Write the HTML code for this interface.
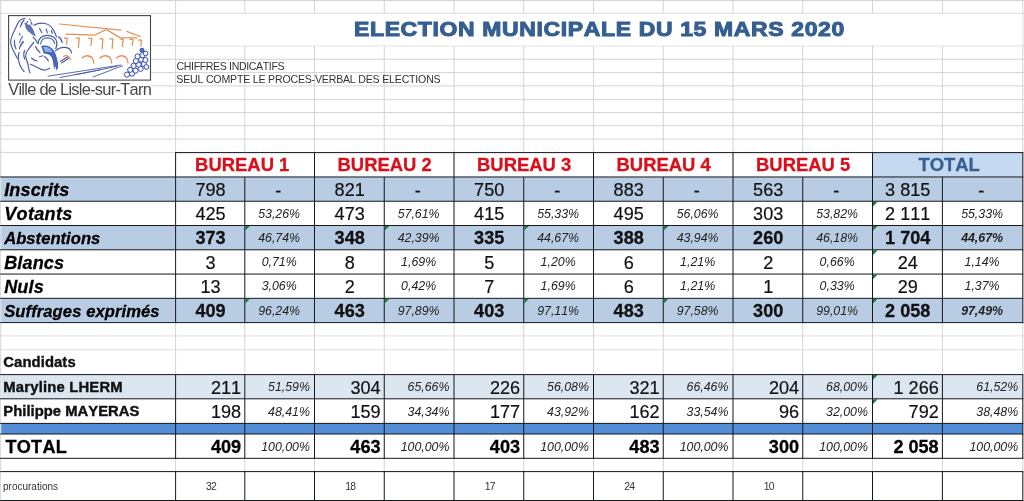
<!DOCTYPE html>
<html><head><meta charset="utf-8"><title>Election municipale</title>
<style>
html,body{margin:0;padding:0;background:#fff;}
body{width:1024px;height:501px;position:relative;overflow:hidden;font-family:"Liberation Sans",sans-serif;}
#s{position:absolute;left:0;top:0;width:1024px;height:501px;overflow:hidden;background:#fff;}
#s div,#s span,#s svg{position:absolute;}
#s span{line-height:1;white-space:pre;font-kerning:none;}
#t{left:0;top:0;width:1024px;height:501px;will-change:transform;}
</style></head><body><div id="s">
<svg width="1024" height="501" viewBox="0 0 1024 501" style="left:0;top:0">
<rect x="0.00" y="0.00" width="1024.00" height="1" fill="#d4d4d4"/>
<rect x="0.00" y="12.80" width="1024.00" height="1" fill="#d4d4d4"/>
<rect x="0.00" y="45.30" width="1024.00" height="1" fill="#d4d4d4"/>
<rect x="0.00" y="58.80" width="1024.00" height="1" fill="#d4d4d4"/>
<rect x="0.00" y="72.10" width="1024.00" height="1" fill="#d4d4d4"/>
<rect x="0.00" y="85.40" width="1024.00" height="1" fill="#d4d4d4"/>
<rect x="0.00" y="99.10" width="1024.00" height="1" fill="#d4d4d4"/>
<rect x="0.00" y="112.00" width="1024.00" height="1" fill="#d4d4d4"/>
<rect x="0.00" y="125.30" width="1024.00" height="1" fill="#d4d4d4"/>
<rect x="0.00" y="138.60" width="1024.00" height="1" fill="#d4d4d4"/>
<rect x="0.00" y="151.90" width="1024.00" height="1" fill="#d4d4d4"/>
<rect x="0.00" y="335.40" width="1024.00" height="1" fill="#e2dfdf"/>
<rect x="0.00" y="349.30" width="1024.00" height="1" fill="#e2dfdf"/>
<rect x="0.20" y="0.00" width="1" height="501.00" fill="#d4d4d4"/>
<rect x="175.10" y="0.00" width="1" height="501.00" fill="#d4d4d4"/>
<rect x="244.30" y="0.00" width="1" height="501.00" fill="#d4d4d4"/>
<rect x="314.00" y="0.00" width="1" height="501.00" fill="#d4d4d4"/>
<rect x="383.75" y="0.00" width="1" height="501.00" fill="#d4d4d4"/>
<rect x="453.50" y="0.00" width="1" height="501.00" fill="#d4d4d4"/>
<rect x="523.25" y="0.00" width="1" height="501.00" fill="#d4d4d4"/>
<rect x="593.00" y="0.00" width="1" height="501.00" fill="#d4d4d4"/>
<rect x="662.75" y="0.00" width="1" height="501.00" fill="#d4d4d4"/>
<rect x="732.50" y="0.00" width="1" height="501.00" fill="#d4d4d4"/>
<rect x="802.25" y="0.00" width="1" height="501.00" fill="#d4d4d4"/>
<rect x="872.00" y="0.00" width="1" height="501.00" fill="#d4d4d4"/>
<rect x="941.90" y="0.00" width="1" height="501.00" fill="#d4d4d4"/>
<rect x="1022.30" y="0.00" width="1" height="501.00" fill="#d4d4d4"/>
<rect x="176.10" y="13.80" width="846.20" height="31.70" fill="#fff"/>
<rect x="175.60" y="152.60" width="847.20" height="169.99" fill="#fff"/>
<rect x="1.20" y="176.97" width="174.40" height="145.62" fill="#fff"/>
<rect x="1.20" y="374.60" width="1021.60" height="83.70" fill="#fff"/>
<rect x="1.20" y="471.60" width="1021.60" height="28.90" fill="#fff"/>
<rect x="872.50" y="152.60" width="150.30" height="24.37" fill="#c5d9f1"/>
<rect x="1.20" y="176.97" width="1021.60" height="24.27" fill="#b8cce4"/>
<rect x="1.20" y="225.51" width="1021.60" height="24.27" fill="#b8cce4"/>
<rect x="1.20" y="298.32" width="1021.60" height="24.27" fill="#b8cce4"/>
<rect x="1.20" y="374.60" width="1021.60" height="24.20" fill="#dce6f1"/>
<rect x="1.20" y="423.40" width="1021.60" height="10.60" fill="#538dd5"/>
<rect x="175.10" y="152.10" width="848.20" height="1" fill="#14171c"/>
<rect x="0.20" y="176.47" width="1023.10" height="1" fill="#14171c"/>
<rect x="0.20" y="200.74" width="1023.10" height="1" fill="#14171c"/>
<rect x="0.20" y="225.01" width="1023.10" height="1" fill="#14171c"/>
<rect x="0.20" y="249.28" width="1023.10" height="1" fill="#14171c"/>
<rect x="0.20" y="273.55" width="1023.10" height="1" fill="#14171c"/>
<rect x="0.20" y="297.82" width="1023.10" height="1" fill="#14171c"/>
<rect x="0.20" y="322.09" width="1023.10" height="1" fill="#14171c"/>
<rect x="0.20" y="374.10" width="1023.10" height="1" fill="#14171c"/>
<rect x="0.20" y="398.30" width="1023.10" height="1" fill="#14171c"/>
<rect x="0.20" y="422.90" width="1023.10" height="1" fill="#14171c"/>
<rect x="0.20" y="433.50" width="1023.10" height="1" fill="#14171c"/>
<rect x="0.20" y="457.80" width="1023.10" height="1" fill="#14171c"/>
<rect x="0.20" y="471.10" width="1023.10" height="1" fill="#14171c"/>
<rect x="0.20" y="500.00" width="1023.10" height="1" fill="#14171c"/>
<rect x="175.10" y="152.60" width="1" height="24.37" fill="#14171c"/>
<rect x="314.00" y="152.60" width="1" height="24.37" fill="#14171c"/>
<rect x="453.50" y="152.60" width="1" height="24.37" fill="#14171c"/>
<rect x="593.00" y="152.60" width="1" height="24.37" fill="#14171c"/>
<rect x="732.50" y="152.60" width="1" height="24.37" fill="#14171c"/>
<rect x="872.00" y="152.60" width="1" height="24.37" fill="#14171c"/>
<rect x="1022.30" y="152.60" width="1" height="24.37" fill="#14171c"/>
<rect x="175.10" y="176.97" width="1" height="146.12" fill="#14171c"/>
<rect x="175.10" y="374.60" width="1" height="84.20" fill="#14171c"/>
<rect x="175.10" y="471.60" width="1" height="29.40" fill="#14171c"/>
<rect x="244.30" y="176.97" width="1" height="146.12" fill="#14171c"/>
<rect x="244.30" y="374.60" width="1" height="84.20" fill="#14171c"/>
<rect x="244.30" y="471.60" width="1" height="29.40" fill="#14171c"/>
<rect x="314.00" y="176.97" width="1" height="146.12" fill="#14171c"/>
<rect x="314.00" y="374.60" width="1" height="84.20" fill="#14171c"/>
<rect x="314.00" y="471.60" width="1" height="29.40" fill="#14171c"/>
<rect x="383.75" y="176.97" width="1" height="146.12" fill="#14171c"/>
<rect x="383.75" y="374.60" width="1" height="84.20" fill="#14171c"/>
<rect x="383.75" y="471.60" width="1" height="29.40" fill="#14171c"/>
<rect x="453.50" y="176.97" width="1" height="146.12" fill="#14171c"/>
<rect x="453.50" y="374.60" width="1" height="84.20" fill="#14171c"/>
<rect x="453.50" y="471.60" width="1" height="29.40" fill="#14171c"/>
<rect x="523.25" y="176.97" width="1" height="146.12" fill="#14171c"/>
<rect x="523.25" y="374.60" width="1" height="84.20" fill="#14171c"/>
<rect x="523.25" y="471.60" width="1" height="29.40" fill="#14171c"/>
<rect x="593.00" y="176.97" width="1" height="146.12" fill="#14171c"/>
<rect x="593.00" y="374.60" width="1" height="84.20" fill="#14171c"/>
<rect x="593.00" y="471.60" width="1" height="29.40" fill="#14171c"/>
<rect x="662.75" y="176.97" width="1" height="146.12" fill="#14171c"/>
<rect x="662.75" y="374.60" width="1" height="84.20" fill="#14171c"/>
<rect x="662.75" y="471.60" width="1" height="29.40" fill="#14171c"/>
<rect x="732.50" y="176.97" width="1" height="146.12" fill="#14171c"/>
<rect x="732.50" y="374.60" width="1" height="84.20" fill="#14171c"/>
<rect x="732.50" y="471.60" width="1" height="29.40" fill="#14171c"/>
<rect x="802.25" y="176.97" width="1" height="146.12" fill="#14171c"/>
<rect x="802.25" y="374.60" width="1" height="84.20" fill="#14171c"/>
<rect x="802.25" y="471.60" width="1" height="29.40" fill="#14171c"/>
<rect x="872.00" y="176.97" width="1" height="146.12" fill="#14171c"/>
<rect x="872.00" y="374.60" width="1" height="84.20" fill="#14171c"/>
<rect x="872.00" y="471.60" width="1" height="29.40" fill="#14171c"/>
<rect x="941.90" y="176.97" width="1" height="146.12" fill="#14171c"/>
<rect x="941.90" y="374.60" width="1" height="84.20" fill="#14171c"/>
<rect x="941.90" y="471.60" width="1" height="29.40" fill="#14171c"/>
<rect x="1022.30" y="176.97" width="1" height="146.12" fill="#14171c"/>
<rect x="1022.30" y="374.60" width="1" height="84.20" fill="#14171c"/>
<rect x="1022.30" y="471.60" width="1" height="29.40" fill="#14171c"/>
<path d="M245.30 226.01h4.6l-4.6 4.6z" fill="#1c7a3c"/>
<path d="M384.75 226.01h4.6l-4.6 4.6z" fill="#1c7a3c"/>
<path d="M524.25 226.01h4.6l-4.6 4.6z" fill="#1c7a3c"/>
<path d="M663.75 226.01h4.6l-4.6 4.6z" fill="#1c7a3c"/>
<path d="M245.30 298.82h4.6l-4.6 4.6z" fill="#1c7a3c"/>
<path d="M384.75 298.82h4.6l-4.6 4.6z" fill="#1c7a3c"/>
<path d="M524.25 298.82h4.6l-4.6 4.6z" fill="#1c7a3c"/>
<path d="M663.75 298.82h4.6l-4.6 4.6z" fill="#1c7a3c"/>
<path d="M873.00 201.74h4.6l-4.6 4.6z" fill="#1c7a3c"/>
<path d="M873.00 226.01h4.6l-4.6 4.6z" fill="#1c7a3c"/>
<path d="M873.00 250.28h4.6l-4.6 4.6z" fill="#1c7a3c"/>
<path d="M873.00 274.55h4.6l-4.6 4.6z" fill="#1c7a3c"/>
<path d="M873.00 298.82h4.6l-4.6 4.6z" fill="#1c7a3c"/>
<path d="M873.00 375.10h4.6l-4.6 4.6z" fill="#1c7a3c"/>
<path d="M873.00 399.30h4.6l-4.6 4.6z" fill="#1c7a3c"/>
</svg>
<div id="t">
<span style="left:354.40px;top:19.01px;font-size:20.90px;font-weight:700;font-style:normal;color:#365f91;letter-spacing:0.58px;-webkit-text-stroke:1.05px #365f91;transform:scaleX(1.1);transform-origin:0 0;">ELECTION MUNICIPALE DU 15 MARS 2020</span>
<span style="left:176.50px;top:60.73px;font-size:10.60px;font-weight:400;font-style:normal;color:#333;letter-spacing:-0.37px;">CHIFFRES INDICATIFS</span>
<span style="left:176.30px;top:73.93px;font-size:10.60px;font-weight:400;font-style:normal;color:#333;letter-spacing:-0.2px;">SEUL COMPTE LE PROCES-VERBAL DES ELECTIONS</span>
<span style="left:172.80px;width:138.90px;text-align:center;top:155.98px;font-size:18.45px;font-weight:700;font-style:normal;color:#d90f1a;-webkit-text-stroke:0.28px #d90f1a;">BUREAU 1</span>
<span style="left:314.90px;width:139.50px;text-align:center;top:155.98px;font-size:18.45px;font-weight:700;font-style:normal;color:#d90f1a;-webkit-text-stroke:0.28px #d90f1a;">BUREAU 2</span>
<span style="left:454.40px;width:139.50px;text-align:center;top:155.98px;font-size:18.45px;font-weight:700;font-style:normal;color:#d90f1a;-webkit-text-stroke:0.28px #d90f1a;">BUREAU 3</span>
<span style="left:593.90px;width:139.50px;text-align:center;top:155.98px;font-size:18.45px;font-weight:700;font-style:normal;color:#d90f1a;-webkit-text-stroke:0.28px #d90f1a;">BUREAU 4</span>
<span style="left:733.40px;width:139.50px;text-align:center;top:155.98px;font-size:18.45px;font-weight:700;font-style:normal;color:#d90f1a;-webkit-text-stroke:0.28px #d90f1a;">BUREAU 5</span>
<span style="left:874.00px;width:150.30px;text-align:center;top:155.98px;font-size:18.45px;font-weight:700;font-style:normal;color:#366092;-webkit-text-stroke:0.28px #366092;">TOTAL</span>
<span style="left:4.20px;top:180.92px;font-size:18.10px;font-weight:700;font-style:italic;color:#000;letter-spacing:0.1px;-webkit-text-stroke:0.28px #000;">Inscrits</span>
<span style="left:175.90px;width:69.20px;text-align:center;top:180.92px;font-size:18.10px;font-weight:400;font-style:normal;color:#111;-webkit-text-stroke:0.2px #111;">798</span>
<span style="left:243.40px;width:69.70px;text-align:center;top:181.92px;font-size:18.10px;font-weight:400;font-style:normal;color:#111;-webkit-text-stroke:0.2px #111;">-</span>
<span style="left:314.80px;width:69.75px;text-align:center;top:180.92px;font-size:18.10px;font-weight:400;font-style:normal;color:#111;-webkit-text-stroke:0.2px #111;">821</span>
<span style="left:382.85px;width:69.75px;text-align:center;top:181.92px;font-size:18.10px;font-weight:400;font-style:normal;color:#111;-webkit-text-stroke:0.2px #111;">-</span>
<span style="left:454.30px;width:69.75px;text-align:center;top:180.92px;font-size:18.10px;font-weight:400;font-style:normal;color:#111;-webkit-text-stroke:0.2px #111;">750</span>
<span style="left:522.35px;width:69.75px;text-align:center;top:181.92px;font-size:18.10px;font-weight:400;font-style:normal;color:#111;-webkit-text-stroke:0.2px #111;">-</span>
<span style="left:593.80px;width:69.75px;text-align:center;top:180.92px;font-size:18.10px;font-weight:400;font-style:normal;color:#111;-webkit-text-stroke:0.2px #111;">883</span>
<span style="left:661.85px;width:69.75px;text-align:center;top:181.92px;font-size:18.10px;font-weight:400;font-style:normal;color:#111;-webkit-text-stroke:0.2px #111;">-</span>
<span style="left:733.30px;width:69.75px;text-align:center;top:180.92px;font-size:18.10px;font-weight:400;font-style:normal;color:#111;-webkit-text-stroke:0.2px #111;">563</span>
<span style="left:801.35px;width:69.75px;text-align:center;top:181.92px;font-size:18.10px;font-weight:400;font-style:normal;color:#111;-webkit-text-stroke:0.2px #111;">-</span>
<span style="left:872.80px;width:69.90px;text-align:center;top:180.92px;font-size:18.10px;font-weight:400;font-style:normal;color:#111;-webkit-text-stroke:0.2px #111;">3 815</span>
<span style="left:941.00px;width:80.40px;text-align:center;top:181.92px;font-size:18.10px;font-weight:400;font-style:normal;color:#111;-webkit-text-stroke:0.2px #111;">-</span>
<span style="left:4.20px;top:205.19px;font-size:18.10px;font-weight:700;font-style:italic;color:#000;letter-spacing:0.3px;-webkit-text-stroke:0.28px #000;">Votants</span>
<span style="left:175.90px;width:69.20px;text-align:center;top:205.19px;font-size:18.10px;font-weight:400;font-style:normal;color:#111;-webkit-text-stroke:0.2px #111;">425</span>
<span style="left:244.30px;width:69.70px;text-align:center;top:207.66px;font-size:12.35px;font-weight:400;font-style:italic;color:#222;">53,26%</span>
<span style="left:314.80px;width:69.75px;text-align:center;top:205.19px;font-size:18.10px;font-weight:400;font-style:normal;color:#111;-webkit-text-stroke:0.2px #111;">473</span>
<span style="left:383.75px;width:69.75px;text-align:center;top:207.66px;font-size:12.35px;font-weight:400;font-style:italic;color:#222;">57,61%</span>
<span style="left:454.30px;width:69.75px;text-align:center;top:205.19px;font-size:18.10px;font-weight:400;font-style:normal;color:#111;-webkit-text-stroke:0.2px #111;">415</span>
<span style="left:523.25px;width:69.75px;text-align:center;top:207.66px;font-size:12.35px;font-weight:400;font-style:italic;color:#222;">55,33%</span>
<span style="left:593.80px;width:69.75px;text-align:center;top:205.19px;font-size:18.10px;font-weight:400;font-style:normal;color:#111;-webkit-text-stroke:0.2px #111;">495</span>
<span style="left:662.75px;width:69.75px;text-align:center;top:207.66px;font-size:12.35px;font-weight:400;font-style:italic;color:#222;">56,06%</span>
<span style="left:733.30px;width:69.75px;text-align:center;top:205.19px;font-size:18.10px;font-weight:400;font-style:normal;color:#111;-webkit-text-stroke:0.2px #111;">303</span>
<span style="left:802.25px;width:69.75px;text-align:center;top:207.66px;font-size:12.35px;font-weight:400;font-style:italic;color:#222;">53,82%</span>
<span style="left:872.80px;width:69.90px;text-align:center;top:205.19px;font-size:18.10px;font-weight:400;font-style:normal;color:#111;-webkit-text-stroke:0.2px #111;">2 111</span>
<span style="left:941.90px;width:80.40px;text-align:center;top:207.66px;font-size:12.35px;font-weight:400;font-style:italic;color:#222;">55,33%</span>
<span style="left:4.20px;top:231.13px;font-size:16.60px;font-weight:700;font-style:italic;color:#000;letter-spacing:0.02px;-webkit-text-stroke:0.28px #000;">Abstentions</span>
<span style="left:175.90px;width:69.20px;text-align:center;top:229.46px;font-size:18.10px;font-weight:700;font-style:normal;color:#111;-webkit-text-stroke:0.28px #111;">373</span>
<span style="left:244.30px;width:69.70px;text-align:center;top:231.93px;font-size:12.35px;font-weight:400;font-style:italic;color:#222;">46,74%</span>
<span style="left:314.80px;width:69.75px;text-align:center;top:229.46px;font-size:18.10px;font-weight:700;font-style:normal;color:#111;-webkit-text-stroke:0.28px #111;">348</span>
<span style="left:383.75px;width:69.75px;text-align:center;top:231.93px;font-size:12.35px;font-weight:400;font-style:italic;color:#222;">42,39%</span>
<span style="left:454.30px;width:69.75px;text-align:center;top:229.46px;font-size:18.10px;font-weight:700;font-style:normal;color:#111;-webkit-text-stroke:0.28px #111;">335</span>
<span style="left:523.25px;width:69.75px;text-align:center;top:231.93px;font-size:12.35px;font-weight:400;font-style:italic;color:#222;">44,67%</span>
<span style="left:593.80px;width:69.75px;text-align:center;top:229.46px;font-size:18.10px;font-weight:700;font-style:normal;color:#111;-webkit-text-stroke:0.28px #111;">388</span>
<span style="left:662.75px;width:69.75px;text-align:center;top:231.93px;font-size:12.35px;font-weight:400;font-style:italic;color:#222;">43,94%</span>
<span style="left:733.30px;width:69.75px;text-align:center;top:229.46px;font-size:18.10px;font-weight:700;font-style:normal;color:#111;-webkit-text-stroke:0.28px #111;">260</span>
<span style="left:802.25px;width:69.75px;text-align:center;top:231.93px;font-size:12.35px;font-weight:400;font-style:italic;color:#222;">46,18%</span>
<span style="left:872.80px;width:69.90px;text-align:center;top:229.46px;font-size:18.10px;font-weight:700;font-style:normal;color:#111;-webkit-text-stroke:0.28px #111;">1 704</span>
<span style="left:941.90px;width:80.40px;text-align:center;top:231.93px;font-size:12.35px;font-weight:700;font-style:italic;color:#222;">44,67%</span>
<span style="left:4.20px;top:253.73px;font-size:18.10px;font-weight:700;font-style:italic;color:#000;letter-spacing:0.1px;-webkit-text-stroke:0.28px #000;">Blancs</span>
<span style="left:175.90px;width:69.20px;text-align:center;top:253.73px;font-size:18.10px;font-weight:400;font-style:normal;color:#111;-webkit-text-stroke:0.2px #111;">3</span>
<span style="left:244.30px;width:69.70px;text-align:center;top:256.20px;font-size:12.35px;font-weight:400;font-style:italic;color:#222;">0,71%</span>
<span style="left:314.80px;width:69.75px;text-align:center;top:253.73px;font-size:18.10px;font-weight:400;font-style:normal;color:#111;-webkit-text-stroke:0.2px #111;">8</span>
<span style="left:383.75px;width:69.75px;text-align:center;top:256.20px;font-size:12.35px;font-weight:400;font-style:italic;color:#222;">1,69%</span>
<span style="left:454.30px;width:69.75px;text-align:center;top:253.73px;font-size:18.10px;font-weight:400;font-style:normal;color:#111;-webkit-text-stroke:0.2px #111;">5</span>
<span style="left:523.25px;width:69.75px;text-align:center;top:256.20px;font-size:12.35px;font-weight:400;font-style:italic;color:#222;">1,20%</span>
<span style="left:593.80px;width:69.75px;text-align:center;top:253.73px;font-size:18.10px;font-weight:400;font-style:normal;color:#111;-webkit-text-stroke:0.2px #111;">6</span>
<span style="left:662.75px;width:69.75px;text-align:center;top:256.20px;font-size:12.35px;font-weight:400;font-style:italic;color:#222;">1,21%</span>
<span style="left:733.30px;width:69.75px;text-align:center;top:253.73px;font-size:18.10px;font-weight:400;font-style:normal;color:#111;-webkit-text-stroke:0.2px #111;">2</span>
<span style="left:802.25px;width:69.75px;text-align:center;top:256.20px;font-size:12.35px;font-weight:400;font-style:italic;color:#222;">0,66%</span>
<span style="left:872.80px;width:69.90px;text-align:center;top:253.73px;font-size:18.10px;font-weight:400;font-style:normal;color:#111;-webkit-text-stroke:0.2px #111;">24</span>
<span style="left:941.90px;width:80.40px;text-align:center;top:256.20px;font-size:12.35px;font-weight:400;font-style:italic;color:#222;">1,14%</span>
<span style="left:4.20px;top:278.00px;font-size:18.10px;font-weight:700;font-style:italic;color:#000;letter-spacing:0.1px;-webkit-text-stroke:0.28px #000;">Nuls</span>
<span style="left:175.90px;width:69.20px;text-align:center;top:278.00px;font-size:18.10px;font-weight:400;font-style:normal;color:#111;-webkit-text-stroke:0.2px #111;">13</span>
<span style="left:244.30px;width:69.70px;text-align:center;top:280.47px;font-size:12.35px;font-weight:400;font-style:italic;color:#222;">3,06%</span>
<span style="left:314.80px;width:69.75px;text-align:center;top:278.00px;font-size:18.10px;font-weight:400;font-style:normal;color:#111;-webkit-text-stroke:0.2px #111;">2</span>
<span style="left:383.75px;width:69.75px;text-align:center;top:280.47px;font-size:12.35px;font-weight:400;font-style:italic;color:#222;">0,42%</span>
<span style="left:454.30px;width:69.75px;text-align:center;top:278.00px;font-size:18.10px;font-weight:400;font-style:normal;color:#111;-webkit-text-stroke:0.2px #111;">7</span>
<span style="left:523.25px;width:69.75px;text-align:center;top:280.47px;font-size:12.35px;font-weight:400;font-style:italic;color:#222;">1,69%</span>
<span style="left:593.80px;width:69.75px;text-align:center;top:278.00px;font-size:18.10px;font-weight:400;font-style:normal;color:#111;-webkit-text-stroke:0.2px #111;">6</span>
<span style="left:662.75px;width:69.75px;text-align:center;top:280.47px;font-size:12.35px;font-weight:400;font-style:italic;color:#222;">1,21%</span>
<span style="left:733.30px;width:69.75px;text-align:center;top:278.00px;font-size:18.10px;font-weight:400;font-style:normal;color:#111;-webkit-text-stroke:0.2px #111;">1</span>
<span style="left:802.25px;width:69.75px;text-align:center;top:280.47px;font-size:12.35px;font-weight:400;font-style:italic;color:#222;">0,33%</span>
<span style="left:872.80px;width:69.90px;text-align:center;top:278.00px;font-size:18.10px;font-weight:400;font-style:normal;color:#111;-webkit-text-stroke:0.2px #111;">29</span>
<span style="left:941.90px;width:80.40px;text-align:center;top:280.47px;font-size:12.35px;font-weight:400;font-style:italic;color:#222;">1,37%</span>
<span style="left:4.20px;top:303.94px;font-size:16.60px;font-weight:700;font-style:italic;color:#000;letter-spacing:0.08px;-webkit-text-stroke:0.28px #000;">Suffrages exprimés</span>
<span style="left:175.90px;width:69.20px;text-align:center;top:302.27px;font-size:18.10px;font-weight:700;font-style:normal;color:#111;-webkit-text-stroke:0.28px #111;">409</span>
<span style="left:244.30px;width:69.70px;text-align:center;top:304.74px;font-size:12.35px;font-weight:400;font-style:italic;color:#222;">96,24%</span>
<span style="left:314.80px;width:69.75px;text-align:center;top:302.27px;font-size:18.10px;font-weight:700;font-style:normal;color:#111;-webkit-text-stroke:0.28px #111;">463</span>
<span style="left:383.75px;width:69.75px;text-align:center;top:304.74px;font-size:12.35px;font-weight:400;font-style:italic;color:#222;">97,89%</span>
<span style="left:454.30px;width:69.75px;text-align:center;top:302.27px;font-size:18.10px;font-weight:700;font-style:normal;color:#111;-webkit-text-stroke:0.28px #111;">403</span>
<span style="left:523.25px;width:69.75px;text-align:center;top:304.74px;font-size:12.35px;font-weight:400;font-style:italic;color:#222;">97,11%</span>
<span style="left:593.80px;width:69.75px;text-align:center;top:302.27px;font-size:18.10px;font-weight:700;font-style:normal;color:#111;-webkit-text-stroke:0.28px #111;">483</span>
<span style="left:662.75px;width:69.75px;text-align:center;top:304.74px;font-size:12.35px;font-weight:400;font-style:italic;color:#222;">97,58%</span>
<span style="left:733.30px;width:69.75px;text-align:center;top:302.27px;font-size:18.10px;font-weight:700;font-style:normal;color:#111;-webkit-text-stroke:0.28px #111;">300</span>
<span style="left:802.25px;width:69.75px;text-align:center;top:304.74px;font-size:12.35px;font-weight:400;font-style:italic;color:#222;">99,01%</span>
<span style="left:872.80px;width:69.90px;text-align:center;top:302.27px;font-size:18.10px;font-weight:700;font-style:normal;color:#111;-webkit-text-stroke:0.28px #111;">2 058</span>
<span style="left:941.90px;width:80.40px;text-align:center;top:304.74px;font-size:12.35px;font-weight:700;font-style:italic;color:#222;">97,49%</span>
<span style="left:3.30px;top:354.77px;font-size:14.80px;font-weight:700;font-style:normal;color:#111;letter-spacing:0.1px;-webkit-text-stroke:0.4px #111;">Candidats</span>
<span style="left:3.30px;top:379.87px;font-size:14.80px;font-weight:700;font-style:normal;color:#111;letter-spacing:0.2px;-webkit-text-stroke:0.4px #111;">Maryline LHERM</span>
<span style="left:175.60px;width:65.60px;text-align:right;top:378.88px;font-size:18.10px;font-weight:400;font-style:normal;color:#111;-webkit-text-stroke:0.2px #111;">211</span>
<span style="left:244.80px;width:65.10px;text-align:right;top:381.15px;font-size:12.35px;font-weight:400;font-style:italic;color:#222;">51,59%</span>
<span style="left:314.50px;width:66.15px;text-align:right;top:378.88px;font-size:18.10px;font-weight:400;font-style:normal;color:#111;-webkit-text-stroke:0.2px #111;">304</span>
<span style="left:384.25px;width:65.15px;text-align:right;top:381.15px;font-size:12.35px;font-weight:400;font-style:italic;color:#222;">65,66%</span>
<span style="left:454.00px;width:66.15px;text-align:right;top:378.88px;font-size:18.10px;font-weight:400;font-style:normal;color:#111;-webkit-text-stroke:0.2px #111;">226</span>
<span style="left:523.75px;width:65.15px;text-align:right;top:381.15px;font-size:12.35px;font-weight:400;font-style:italic;color:#222;">56,08%</span>
<span style="left:593.50px;width:66.15px;text-align:right;top:378.88px;font-size:18.10px;font-weight:400;font-style:normal;color:#111;-webkit-text-stroke:0.2px #111;">321</span>
<span style="left:663.25px;width:65.15px;text-align:right;top:381.15px;font-size:12.35px;font-weight:400;font-style:italic;color:#222;">66,46%</span>
<span style="left:733.00px;width:66.15px;text-align:right;top:378.88px;font-size:18.10px;font-weight:400;font-style:normal;color:#111;-webkit-text-stroke:0.2px #111;">204</span>
<span style="left:802.75px;width:65.15px;text-align:right;top:381.15px;font-size:12.35px;font-weight:400;font-style:italic;color:#222;">68,00%</span>
<span style="left:872.50px;width:66.30px;text-align:right;top:378.88px;font-size:18.10px;font-weight:400;font-style:normal;color:#111;-webkit-text-stroke:0.2px #111;">1 266</span>
<span style="left:942.40px;width:75.80px;text-align:right;top:381.15px;font-size:12.35px;font-weight:400;font-style:italic;color:#222;">61,52%</span>
<span style="left:3.30px;top:404.47px;font-size:14.80px;font-weight:700;font-style:normal;color:#111;letter-spacing:0.03px;-webkit-text-stroke:0.4px #111;">Philippe MAYERAS</span>
<span style="left:175.60px;width:65.60px;text-align:right;top:403.48px;font-size:18.10px;font-weight:400;font-style:normal;color:#111;-webkit-text-stroke:0.2px #111;">198</span>
<span style="left:244.80px;width:65.10px;text-align:right;top:405.75px;font-size:12.35px;font-weight:400;font-style:italic;color:#222;">48,41%</span>
<span style="left:314.50px;width:66.15px;text-align:right;top:403.48px;font-size:18.10px;font-weight:400;font-style:normal;color:#111;-webkit-text-stroke:0.2px #111;">159</span>
<span style="left:384.25px;width:65.15px;text-align:right;top:405.75px;font-size:12.35px;font-weight:400;font-style:italic;color:#222;">34,34%</span>
<span style="left:454.00px;width:66.15px;text-align:right;top:403.48px;font-size:18.10px;font-weight:400;font-style:normal;color:#111;-webkit-text-stroke:0.2px #111;">177</span>
<span style="left:523.75px;width:65.15px;text-align:right;top:405.75px;font-size:12.35px;font-weight:400;font-style:italic;color:#222;">43,92%</span>
<span style="left:593.50px;width:66.15px;text-align:right;top:403.48px;font-size:18.10px;font-weight:400;font-style:normal;color:#111;-webkit-text-stroke:0.2px #111;">162</span>
<span style="left:663.25px;width:65.15px;text-align:right;top:405.75px;font-size:12.35px;font-weight:400;font-style:italic;color:#222;">33,54%</span>
<span style="left:733.00px;width:66.15px;text-align:right;top:403.48px;font-size:18.10px;font-weight:400;font-style:normal;color:#111;-webkit-text-stroke:0.2px #111;">96</span>
<span style="left:802.75px;width:65.15px;text-align:right;top:405.75px;font-size:12.35px;font-weight:400;font-style:italic;color:#222;">32,00%</span>
<span style="left:872.50px;width:66.30px;text-align:right;top:403.48px;font-size:18.10px;font-weight:400;font-style:normal;color:#111;-webkit-text-stroke:0.2px #111;">792</span>
<span style="left:942.40px;width:75.80px;text-align:right;top:405.75px;font-size:12.35px;font-weight:400;font-style:italic;color:#222;">38,48%</span>
<span style="left:5.40px;top:438.28px;font-size:18.10px;font-weight:700;font-style:normal;color:#000;letter-spacing:0.3px;-webkit-text-stroke:0.28px #000;">TOTAL</span>
<span style="left:175.60px;width:65.50px;text-align:right;top:437.98px;font-size:18.10px;font-weight:700;font-style:normal;color:#000;-webkit-text-stroke:0.28px #000;">409</span>
<span style="left:244.80px;width:65.10px;text-align:right;top:440.65px;font-size:12.35px;font-weight:400;font-style:italic;color:#222;">100,00%</span>
<span style="left:314.50px;width:66.05px;text-align:right;top:437.98px;font-size:18.10px;font-weight:700;font-style:normal;color:#000;-webkit-text-stroke:0.28px #000;">463</span>
<span style="left:384.25px;width:65.15px;text-align:right;top:440.65px;font-size:12.35px;font-weight:400;font-style:italic;color:#222;">100,00%</span>
<span style="left:454.00px;width:66.05px;text-align:right;top:437.98px;font-size:18.10px;font-weight:700;font-style:normal;color:#000;-webkit-text-stroke:0.28px #000;">403</span>
<span style="left:523.75px;width:65.15px;text-align:right;top:440.65px;font-size:12.35px;font-weight:400;font-style:italic;color:#222;">100,00%</span>
<span style="left:593.50px;width:66.05px;text-align:right;top:437.98px;font-size:18.10px;font-weight:700;font-style:normal;color:#000;-webkit-text-stroke:0.28px #000;">483</span>
<span style="left:663.25px;width:65.15px;text-align:right;top:440.65px;font-size:12.35px;font-weight:400;font-style:italic;color:#222;">100,00%</span>
<span style="left:733.00px;width:66.05px;text-align:right;top:437.98px;font-size:18.10px;font-weight:700;font-style:normal;color:#000;-webkit-text-stroke:0.28px #000;">300</span>
<span style="left:802.75px;width:65.15px;text-align:right;top:440.65px;font-size:12.35px;font-weight:400;font-style:italic;color:#222;">100,00%</span>
<span style="left:872.50px;width:66.20px;text-align:right;top:437.98px;font-size:18.10px;font-weight:700;font-style:normal;color:#000;-webkit-text-stroke:0.28px #000;">2 058</span>
<span style="left:942.40px;width:75.80px;text-align:right;top:440.65px;font-size:12.35px;font-weight:400;font-style:italic;color:#222;">100,00%</span>
<span style="left:3.00px;top:481.94px;font-size:10.00px;font-weight:400;font-style:normal;color:#333;">procurations</span>
<span style="left:176.40px;width:69.20px;text-align:center;top:481.90px;font-size:10.40px;font-weight:400;font-style:normal;color:#333;letter-spacing:-0.8px;">32</span>
<span style="left:315.30px;width:69.75px;text-align:center;top:481.90px;font-size:10.40px;font-weight:400;font-style:normal;color:#333;letter-spacing:-0.8px;">18</span>
<span style="left:454.80px;width:69.75px;text-align:center;top:481.90px;font-size:10.40px;font-weight:400;font-style:normal;color:#333;letter-spacing:-0.8px;">17</span>
<span style="left:594.30px;width:69.75px;text-align:center;top:481.90px;font-size:10.40px;font-weight:400;font-style:normal;color:#333;letter-spacing:-0.8px;">24</span>
<span style="left:733.80px;width:69.75px;text-align:center;top:481.90px;font-size:10.40px;font-weight:400;font-style:normal;color:#333;letter-spacing:-0.8px;">10</span>
<svg width="160" height="100" viewBox="0 0 160 100" style="left:0;top:0">
<rect x="2" y="13.8" width="149.5" height="84.6" fill="#fff"/>
<rect x="8.6" y="15.6" width="141.9" height="64.5" fill="#fff" stroke="#45474b" stroke-width="1.1"/>
<g fill="none" stroke="#31449a" stroke-width="1.15" stroke-linecap="round" stroke-linejoin="round" opacity=".88">
<path d="M24 20C22 22 21 24.5 20.5 27M27.5 21.5C26.5 23 26 24.5 26 26M31 22l1 2.5M22.5 36.5C21 38.5 20 40.5 19.6 42.5M14.5 40C14 43 14.6 46 16 49M24.5 50.5C23.5 53 23.6 56 24.6 59M33 37C35 38.5 36.5 40.5 37.3 43M35.5 46.5C36.5 49 38 51 40 52.5M31.5 58C33 59.5 35 60.5 37 61M44.5 56.5C46 57.5 47.5 59 48.5 61"/>
<path d="M25 18.3C21 19 18.5 21 17 25C15 30 12 34 10.8 40C10 44 12 48 14 52C15.5 55 16.5 57 17.5 58.5"/>
<path d="M19.5 33.5l.6 1.5M29.6 19l.8 1.2M25 23.3l.5 1"/>
<path d="M22.8 41.5C21.5 44 20 46.5 19.4 48.6M19 52.5C18 56 18.2 60 19.5 64C20.5 67 22 69.5 24 71.5"/>
<path d="M33.7 42.5C31.5 45 29.5 47.5 28 50C26 52.5 25.2 55 26 58C27 61 28 64 28.5 67C28.8 69.5 29.3 71.5 30 73"/>
<path d="M30.3 64.3C33 65.2 36 66.8 38.5 68C41 69.5 43.5 70.5 45.5 70C47 69.5 48.5 69 49.8 68.3"/>
<path d="M34 25.3C37 23.5 41.5 22.8 45 23.5C49 24.3 52 27 54 31C55.2 33.5 56 35.5 56.5 37"/>
<path d="M39.6 28.4l2.2 4.4M46.2 29l1.2 3.8M51.5 30.5l.8 3"/>
<path d="M38.2 43.5C38 39 42 35.6 47 35.4C52 35.3 56.5 38 56.8 42.5C57 45 56.5 47 55.8 48.5" stroke-width="1.3"/>
<path d="M40.6 44C40.8 40.5 43.5 37.8 47.3 37.8C51 37.8 54.3 40 54.6 43.5"/>
<path d="M58.4 36.8C60.5 38 61.8 40 62.2 42.6"/>
<path d="M55.5 50.9C58 48.5 61.5 47.2 65 47.4C68.5 47.6 71 49.5 71.4 53"/>
<path d="M60.5 61.2L68 56.8M61.5 63L68.5 58.6"/>
<path d="M39.5 56.8l3.4-1"/>
<path d="M20 46l3.4-4.2"/>
<path d="M48 76.2L121 65M75 74.8L117 66.4M93 77L122.5 65.8M60 77.5L100 70" stroke-width=".9"/>
</g>
<path d="M25.6 25.2C27.5 23.6 30 24.4 31.4 26.6C33.2 29.4 34.8 32.4 35.6 36.6C33.6 35.8 31.6 34.4 29.8 32.6C27.6 30.6 24.8 28.6 25.6 25.2Z" fill="#3a4fa8" opacity=".8"/>
<path d="M41.2 45.9C44 45.3 47.5 45.6 49.8 46.8C52.5 48.5 54.5 51 55.6 54C57 58 58 62 58.2 65.5C58.3 67.5 57.5 69.5 56.5 70.5L55.3 66L54.2 69.5C53.5 66 53.3 62.5 52.5 59.5C51.5 56.5 50 55 48 54.2C46.5 53.7 45 53.6 43.7 53.4Z" fill="#3a56b4" opacity=".92"/>
<path d="M43.3 47.2C45.5 46.8 48 47.2 49.6 48.3C51 49.5 52 51 52.3 52.6C50 52.3 47.5 52 45 51.8Z" fill="#8fb0ee"/>
<g fill="none" stroke="#e07c36" stroke-width="1.25" stroke-linecap="round" opacity=".85">
<path d="M59.5 24L121 30.2M66 34.2L94.5 35.2L106.4 29.4L119.7 37.6L137 37.9M126.7 31.4L140.2 36.5"/>
<path d="M64.5 38.2h2.8l-.7 6M76.2 38.2h3l-.8 9.5M88.8 38.4h3l-.8 7M99.8 38.8h3l-.6 10M109.8 38.8h3l-.6 9.5M120.2 39h3l-.8 7.5M130 39.4h3l-.6 6M138.4 40h3l-.5 6"/>
<path d="M63.5 56.5C66 55 69 55.5 70.5 59.5M82 58C84.5 55 90 54.8 92.5 58.5C93.3 60 93.6 61.5 93.7 63M100 58C102.5 55 108 54.8 110.5 58.5C111.3 60 111.6 61.5 111.7 63M116.5 58C119 55 124.5 54.8 127 58.5C127.8 60 128 61.5 128 63" stroke-width="1.3"/>
</g>
<g fill="#f4f7ff" stroke="#3a4fa8" stroke-width="1">
<circle cx="127" cy="74.6" r="2.6"/><circle cx="132" cy="73.6" r="2.6"/><circle cx="130.2" cy="69.8" r="2.6"/><circle cx="135.6" cy="70.6" r="2.6"/><circle cx="140.6" cy="68.8" r="2.6"/>
<circle cx="133.6" cy="65.8" r="2.6"/><circle cx="138.6" cy="64.6" r="2.6"/><circle cx="143.8" cy="64" r="2.6"/><circle cx="146.4" cy="67" r="2.4"/>
<circle cx="136" cy="61" r="2.6"/><circle cx="141" cy="59.6" r="2.6"/><circle cx="145.4" cy="60" r="2.5"/>
<circle cx="137.6" cy="56.4" r="2.6"/><circle cx="142.6" cy="55.2" r="2.6"/><circle cx="145.6" cy="53.4" r="2.3"/>
<circle cx="142" cy="50.2" r="2" fill="#5b6fc0"/>
</g>
</svg>
<span style="left:8.2px;top:80.9px;font-size:16.4px;color:#45474b;letter-spacing:-0.72px;">Ville de Lisle-sur-Tarn</span>

</div>
</div></body></html>
